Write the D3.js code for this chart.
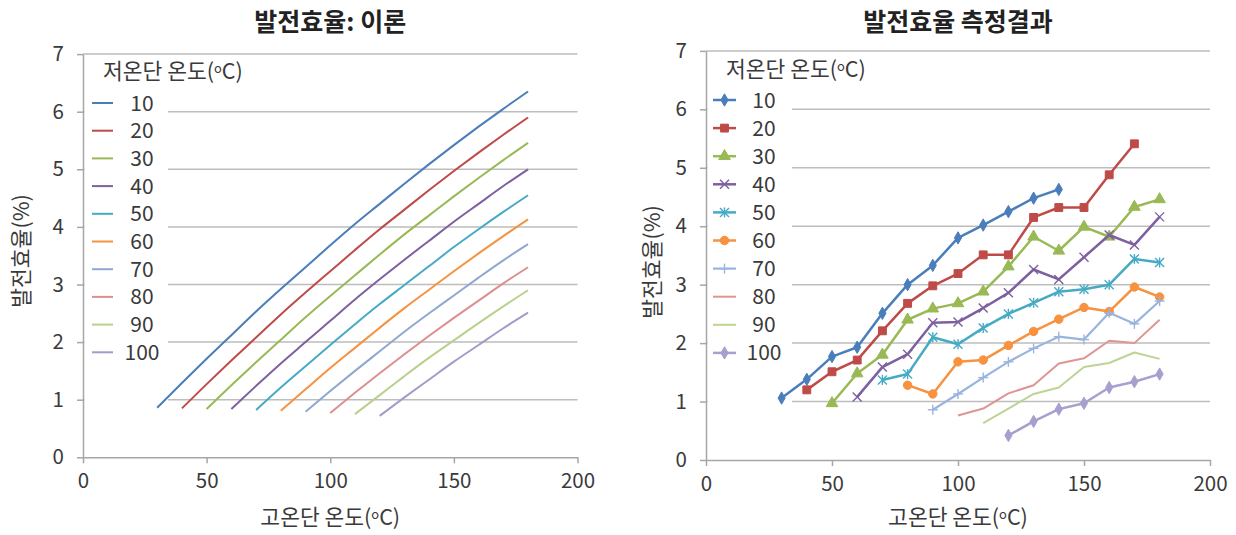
<!DOCTYPE html>
<html>
<head>
<meta charset="utf-8">
<script src="https://cdn.jsdelivr.net/npm/d3@7"></script>
<style>
  body { margin: 0; background: #fff; }
  svg text { font-family: "Noto Sans CJK KR", "Noto Sans", sans-serif; fill: #3a3a3a; }
</style>
</head>
<body>
<svg id="chart" width="1236" height="535"></svg>
<script>
// Cold-side temperatures (series), °C
const coldTemps = ["10", "20", "30", "40", "50", "60", "70", "80", "90", "100"];
const xTicks = [0, 50, 100, 150, 200];
const yTicks = [0, 1, 2, 3, 4, 5, 6, 7];

// Theoretical efficiency (%), hot-side temperature stepping by 10 °C from its first value
const theoryHotStart = [30, 40, 50, 60, 70, 80, 90, 100, 110, 120];
const theory10  = [0.86, 1.29, 1.71, 2.12, 2.53, 2.92, 3.30, 3.68, 4.05, 4.40, 4.75, 5.09, 5.42, 5.74, 6.05, 6.35];
const theory20  = [0.85, 1.27, 1.68, 2.08, 2.48, 2.86, 3.23, 3.60, 3.96, 4.30, 4.64, 4.97, 5.29, 5.60, 5.90];
const theory30  = [0.84, 1.25, 1.65, 2.04, 2.43, 2.80, 3.16, 3.52, 3.87, 4.20, 4.53, 4.85, 5.16, 5.46];
const theory40  = [0.84, 1.24, 1.63, 2.00, 2.37, 2.74, 3.09, 3.43, 3.76, 4.09, 4.40, 4.71, 5.00];
const theory50  = [0.82, 1.21, 1.58, 1.95, 2.31, 2.66, 2.99, 3.32, 3.65, 3.96, 4.26, 4.55];
const theory60  = [0.81, 1.18, 1.55, 1.90, 2.25, 2.59, 2.91, 3.23, 3.54, 3.84, 4.13];
const theory70  = [0.79, 1.15, 1.50, 1.84, 2.18, 2.50, 2.81, 3.12, 3.42, 3.70];
const theory80  = [0.77, 1.12, 1.46, 1.79, 2.11, 2.42, 2.72, 3.02, 3.30];
const theory90  = [0.75, 1.08, 1.41, 1.73, 2.03, 2.33, 2.62, 2.90];
const theory100 = [0.72, 1.04, 1.35, 1.66, 1.95, 2.24, 2.51];

// Measured efficiency (%), hot-side temperature stepping by 10 °C from its first value
const measHotStart = [30, 40, 50, 60, 70, 80, 90, 100, 110, 120];
const meas10  = [1.06, 1.38, 1.77, 1.93, 2.51, 3.00, 3.33, 3.80, 4.02, 4.25, 4.48, 4.63];
const meas20  = [1.20, 1.51, 1.71, 2.21, 2.68, 2.98, 3.19, 3.51, 3.51, 4.15, 4.32, 4.32, 4.88, 5.41];
const meas30  = [0.97, 1.48, 1.80, 2.40, 2.59, 2.68, 2.88, 3.31, 3.82, 3.58, 3.99, 3.82, 4.33, 4.46];
const meas40  = [1.08, 1.59, 1.81, 2.35, 2.36, 2.60, 2.86, 3.26, 3.09, 3.47, 3.85, 3.68, 4.16];
const meas50  = [1.37, 1.47, 2.10, 1.98, 2.26, 2.50, 2.69, 2.88, 2.92, 3.00, 3.44, 3.38];
const meas60  = [1.28, 1.13, 1.68, 1.71, 1.96, 2.20, 2.41, 2.61, 2.54, 2.96, 2.79];
const meas70  = [0.86, 1.13, 1.41, 1.68, 1.91, 2.11, 2.06, 2.52, 2.33, 2.72];
const meas80  = [0.76, 0.88, 1.14, 1.28, 1.65, 1.74, 2.04, 2.00, 2.40];
const meas90  = [0.63, 0.88, 1.13, 1.24, 1.59, 1.66, 1.84, 1.73];
const meas100 = [0.42, 0.66, 0.87, 0.97, 1.24, 1.34, 1.47];

const theorySeries = [theory10, theory20, theory30, theory40, theory50, theory60, theory70, theory80, theory90, theory100];
const measSeries = [meas10, meas20, meas30, meas40, meas50, meas60, meas70, meas80, meas90, meas100];

const theoryColors = ["#4a7ebb", "#be4b48", "#98b954", "#7d60a0", "#46aac5", "#f69240", "#8ea8cf", "#dc8f8e", "#b9d08f", "#a49bc9"];
const measColors   = ["#4a7ebb", "#be4b48", "#98b954", "#7d60a0", "#46aac5", "#f69240", "#99b4de", "#de9593", "#bcd494", "#a99fcf"];
const markerTypes  = ["diamond", "square", "triangle", "cross", "star", "circle", "plus", "none", "none", "diamond"];

const svg = d3.select("#chart");

function toPoints(values, start) {
  return values.map((v, i) => ({ t: start + i * 10, v }));
}

function drawMarker(g, type, cx, cy, color) {
  if (type === "none") return;
  const sym = {
    diamond: [d3.symbolDiamond, 44],
    square: [d3.symbolSquare, 62],
    triangle: [d3.symbolTriangle, 58],
    circle: [d3.symbolCircle, 56]
  }[type];
  if (sym) {
    g.append("path")
      .attr("d", d3.symbol(sym[0], sym[1])())
      .attr("transform", `translate(${cx},${cy})`)
      .attr("fill", color)
      .attr("stroke", color)
      .attr("stroke-width", 1);
    return;
  }
  const r = 4.5;
  const segs = [];
  if (type === "cross" || type === "star") {
    segs.push([-r, -r, r, r], [-r, r, r, -r]);
  }
  if (type === "star" || type === "plus") {
    segs.push([0, -r - 0.5, 0, r + 0.5]);
  }
  if (type === "plus") {
    segs.push([-r - 0.5, 0, r + 0.5, 0]);
  }
  segs.forEach(s => {
    g.append("line")
      .attr("x1", cx + s[0]).attr("y1", cy + s[1])
      .attr("x2", cx + s[2]).attr("y2", cy + s[3])
      .attr("stroke", color).attr("stroke-width", 1.4);
  });
}

// "(°C)" written with a small raised "o"
function degreeLabel(textSel, prefix) {
  textSel.append("tspan").text(prefix + "(");
  textSel.append("tspan").text("o").attr("font-size", "0.6em").attr("dy", "-0.45em");
  textSel.append("tspan").text("C)").attr("dy", "0.27em");
}

function drawPanel(cfg) {
  const g = svg.append("g");
  const x = d3.scaleLinear().domain([0, 200]).range(cfg.xRange);
  const y = d3.scaleLinear().domain([0, 7]).range(cfg.yRange);

  // horizontal gridlines
  g.append("g").selectAll("line").data(yTicks.slice(1)).join("line")
    .attr("x1", x(0)).attr("x2", x(200))
    .attr("y1", d => y(d)).attr("y2", d => y(d))
    .attr("stroke", "#bdbdbd").attr("stroke-width", 1.5);

  // legend panel sits over the gridlines but under the data
  const L = cfg.legend;
  g.append("rect").attr("x", x(0) + 1.5).attr("y", L.boxTop)
    .attr("width", L.boxRight - x(0) - 1.5).attr("height", L.boxBottom - L.boxTop)
    .attr("fill", "#fff");

  // axes
  const yAxis = g.append("g").attr("transform", `translate(${x(0)},0)`)
    .call(d3.axisLeft(y).tickValues(yTicks).tickFormat(d3.format("d"))
      .tickSize(6).tickPadding(13).tickSizeOuter(0));
  const xAxis = g.append("g").attr("transform", `translate(0,${y(0)})`)
    .call(d3.axisBottom(x).tickValues(xTicks).tickFormat(d3.format("d"))
      .tickSize(6).tickPadding(10).tickSizeOuter(0));
  [yAxis, xAxis].forEach(a => {
    a.select(".domain").attr("stroke", "#a6a6a6").attr("stroke-width", 1.5);
    a.selectAll(".tick line").attr("stroke", "#a6a6a6").attr("stroke-width", 1.5);
    a.selectAll(".tick text").attr("font-size", 20.5).attr("fill", "#3a3a3a")
      .style("font-family", '"Noto Sans CJK KR", sans-serif');
  });

  // series
  const line = d3.line().x(d => x(d.t)).y(d => y(d.v)).curve(cfg.curve);
  cfg.series.forEach((vals, i) => {
    const pts = toPoints(vals, cfg.starts[i]);
    g.append("path").datum(pts)
      .attr("d", line)
      .attr("fill", "none")
      .attr("stroke", cfg.colors[i])
      .attr("stroke-width", cfg.widths ? cfg.widths[i] : 2)
      .attr("stroke-linejoin", "round");
    if (cfg.markers) {
      pts.forEach(p => drawMarker(g, cfg.markers[i], x(p.t), y(p.v), cfg.colors[i]));
    }
  });

  // legend entries
  const lt = g.append("text").attr("x", L.titleX).attr("y", L.titleY).attr("font-size", 21.5);
  degreeLabel(lt, "저온단 온도");
  coldTemps.forEach((name, i) => {
    const cy = L.firstY + i * L.step;
    g.append("line").attr("x1", L.sampleX0).attr("x2", L.sampleX1)
      .attr("y1", cy).attr("y2", cy)
      .attr("stroke", cfg.colors[i]).attr("stroke-width", cfg.widths ? cfg.widths[i] : 2);
    if (cfg.markers) drawMarker(g, cfg.markers[i], (L.sampleX0 + L.sampleX1) / 2, cy, cfg.colors[i]);
    g.append("text").attr("x", L.textX).attr("y", cy).attr("dy", "0.36em")
      .attr("text-anchor", "middle").attr("font-size", 21).text(name);
  });

  // titles
  g.append("text").attr("x", (cfg.xRange[0] + cfg.xRange[1]) / 2).attr("y", 31)
    .attr("text-anchor", "middle").attr("font-size", 25).attr("font-weight", "bold")
    .style("fill", "#222").text(cfg.title);
  const xt = g.append("text").attr("x", (cfg.xRange[0] + cfg.xRange[1]) / 2).attr("y", 525)
    .attr("text-anchor", "middle").attr("font-size", 21.5);
  degreeLabel(xt, "고온단 온도");
  g.append("text").attr("transform", `translate(${cfg.yTitleX},${cfg.yTitleY}) rotate(-90)`)
    .attr("text-anchor", "middle").attr("dy", "0.35em").attr("font-size", 21.5).text("발전효율(%)");
}

drawPanel({
  title: "발전효율: 이론",
  xRange: [83, 577.5],
  yRange: [457.3, 54.1],
  series: theorySeries,
  starts: theoryHotStart,
  colors: theoryColors,
  curve: d3.curveMonotoneX,
  yTitleX: 21, yTitleY: 251,
  legend: { boxTop: 56, boxBottom: 404, boxRight: 168, titleX: 103, titleY: 79,
            firstY: 103, step: 27.7, sampleX0: 92, sampleX1: 113, textX: 142 }
});

drawPanel({
  title: "발전효율 측정결과",
  xRange: [706, 1210],
  yRange: [460, 50.9],
  series: measSeries,
  starts: measHotStart,
  colors: measColors,
  widths: [2.5, 2.5, 2.5, 2.5, 2.5, 2.5, 2.2, 2, 2, 2.5],
  markers: markerTypes,
  curve: d3.curveLinear,
  yTitleX: 652, yTitleY: 262,
  legend: { boxTop: 53, boxBottom: 406, boxRight: 792, titleX: 726, titleY: 77,
            firstY: 100, step: 28.1, sampleX0: 713, sampleX1: 736, textX: 764 }
});
</script>
</body>
</html>
